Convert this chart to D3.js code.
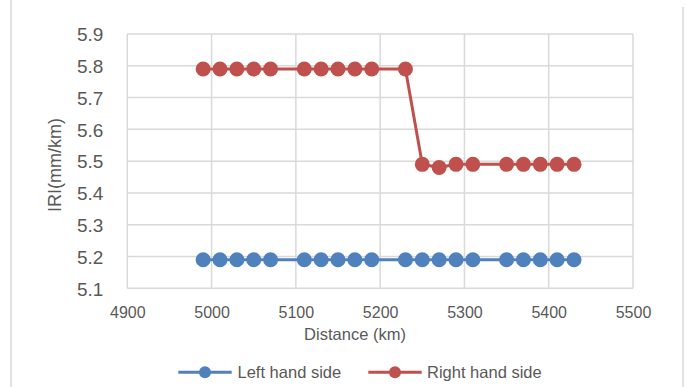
<!DOCTYPE html>
<html>
<head>
<meta charset="utf-8">
<script src="https://cdn.jsdelivr.net/npm/d3@7"></script>
<style>
  html, body { margin: 0; padding: 0; background: #fff; }
  svg { display: block; font-family: "Liberation Sans", Arial, sans-serif; }
</style>
</head>
<body>
<svg id="chart" width="686" height="387"></svg>
<script>
const distances = [4990, 5010, 5030, 5050, 5070, 5110, 5130, 5150, 5170, 5190, 5230, 5250, 5270, 5290, 5310, 5350, 5370, 5390, 5410, 5430];
const leftHandSide = [5.19, 5.19, 5.19, 5.19, 5.19, 5.19, 5.19, 5.19, 5.19, 5.19, 5.19, 5.19, 5.19, 5.19, 5.19, 5.19, 5.19, 5.19, 5.19, 5.19];
const rightHandSide = [5.79, 5.79, 5.79, 5.79, 5.79, 5.79, 5.79, 5.79, 5.79, 5.79, 5.79, 5.49, 5.48, 5.49, 5.49, 5.49, 5.49, 5.49, 5.49, 5.49];
const xTicks = [4900, 5000, 5100, 5200, 5300, 5400, 5500];
const yTicks = [5.1, 5.2, 5.3, 5.4, 5.5, 5.6, 5.7, 5.8, 5.9];
const seriesNames = ["Left hand side", "Right hand side"];
const seriesColors = ["#4f81bd", "#c0504d"];

const svg = d3.select("#chart");
const textColor = "#595959";
const gridColor = "#d9d9d9";

const plot = { left: 127.3, right: 633, top: 34, bottom: 288.3 };

const x = d3.scaleLinear().domain([4900, 5500]).range([plot.left, plot.right]);
const y = d3.scaleLinear().domain([5.1, 5.9]).range([plot.bottom, plot.top]);

// chart outer border (partial, as in the reference)
svg.append("line").attr("x1", 11).attr("x2", 11).attr("y1", 0).attr("y2", 387)
  .attr("stroke", gridColor).attr("stroke-width", 1.5);
svg.append("line").attr("x1", 683).attr("x2", 683).attr("y1", 7).attr("y2", 387)
  .attr("stroke", gridColor).attr("stroke-width", 1.5);

// gridlines
const grid = svg.append("g");
grid.selectAll("line.h").data(yTicks).enter().append("line")
  .attr("x1", plot.left).attr("x2", plot.right)
  .attr("y1", d => y(d)).attr("y2", d => y(d))
  .attr("stroke", gridColor).attr("stroke-width", 1.5);
grid.selectAll("line.v").data(xTicks).enter().append("line")
  .attr("y1", plot.top).attr("y2", plot.bottom)
  .attr("x1", d => x(d)).attr("x2", d => x(d))
  .attr("stroke", gridColor).attr("stroke-width", 1.5);

// axes labels via d3 axes
const yAxis = d3.axisLeft(y).tickValues(yTicks).tickFormat(d3.format(".1f")).tickSize(0).tickPadding(24);
const gy = svg.append("g").attr("transform", `translate(${plot.left},0)`).call(yAxis);
gy.select(".domain").remove();
gy.selectAll("text").attr("fill", textColor).attr("font-size", 19).attr("dy", "0.36em")
  .attr("font-family", "Liberation Sans, Arial, sans-serif");

const xAxis = d3.axisBottom(x).tickValues(xTicks).tickFormat(d3.format("d")).tickSize(0).tickPadding(0);
const gx = svg.append("g").attr("transform", `translate(0,${plot.bottom})`).call(xAxis);
gx.select(".domain").remove();
gx.selectAll("text").attr("fill", textColor).attr("font-size", 16).attr("y", 30).attr("dy", 0)
  .attr("font-family", "Liberation Sans, Arial, sans-serif");

// axis titles
svg.append("text")
  .attr("transform", "translate(61,165) rotate(-90)")
  .attr("text-anchor", "middle")
  .attr("fill", textColor).attr("font-size", 18)
  .text("IRI(mm/km)");
svg.append("text")
  .attr("x", 355).attr("y", 340)
  .attr("text-anchor", "middle")
  .attr("fill", textColor).attr("font-size", 16.5)
  .text("Distance (km)");

// series
const seriesData = [leftHandSide, rightHandSide];
const line = d3.line().x((d, i) => x(distances[i])).y(d => y(d));
seriesData.forEach((vals, si) => {
  const g = svg.append("g");
  g.append("path").datum(vals).attr("d", line)
    .attr("fill", "none").attr("stroke", seriesColors[si]).attr("stroke-width", 3)
    .attr("stroke-linejoin", "round");
  g.selectAll("circle").data(vals).enter().append("circle")
    .attr("cx", (d, i) => x(distances[i])).attr("cy", d => y(d))
    .attr("r", 7.5).attr("fill", seriesColors[si]);
});

// legend
const legendItems = [
  { lx1: 178.3, lx2: 231.7, tx: 237.5 },
  { lx1: 368.3, lx2: 421.7, tx: 427 }
];
const ly = 372.3;
legendItems.forEach((it, i) => {
  const g = svg.append("g");
  g.append("line").attr("x1", it.lx1).attr("x2", it.lx2).attr("y1", ly).attr("y2", ly)
    .attr("stroke", seriesColors[i]).attr("stroke-width", 3);
  g.append("circle").attr("cx", (it.lx1 + it.lx2) / 2).attr("cy", ly).attr("r", 6)
    .attr("fill", seriesColors[i]);
  g.append("text").attr("x", it.tx).attr("y", ly).attr("dy", "0.36em")
    .attr("fill", textColor).attr("font-size", 16.5)
    .text(seriesNames[i]);
});
</script>
</body>
</html>
